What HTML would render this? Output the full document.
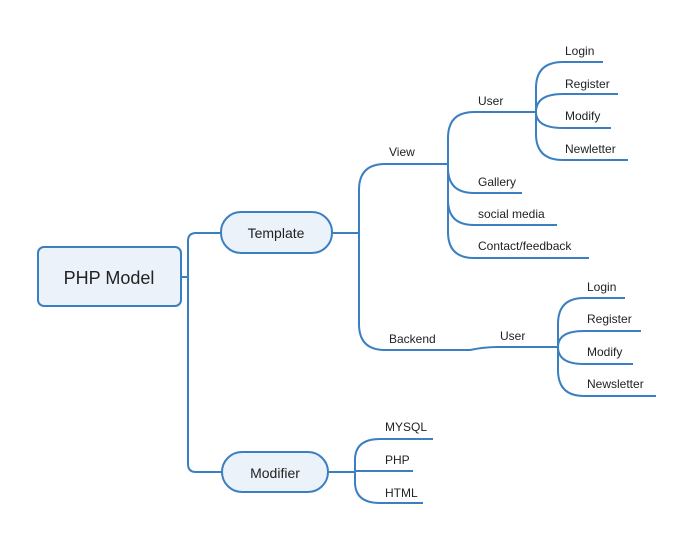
<!DOCTYPE html>
<html><head><style>
html,body{margin:0;padding:0;background:#fff;width:694px;height:543px;overflow:hidden}
svg{display:block}
text{font-family:"Liberation Sans",sans-serif;fill:#222}
</style></head><body>
<svg width="694" height="543" viewBox="0 0 694 543" xmlns="http://www.w3.org/2000/svg">
<g fill="none" stroke="#3a7fc1" stroke-width="2">
<!-- root -->
<path d="M181 277 H188"/>
<path d="M221 233 H196 Q188 233 188 241 V464 Q188 472 196 472 H222"/>
<!-- template to view/backend -->
<path d="M332 233 H359"/>
<path d="M385 164 Q359 164 359 190 V324 Q359 350 385 350 H470 Q484 347 498 347 H558"/>
<!-- view -->
<path d="M385 164 H448"/>
<path d="M474 112 Q448 112 448 138 V168 Q448 193 474 193 H522"/>
<path d="M448 160 V200 Q448 225 474 225 H557"/>
<path d="M448 190 V232 Q448 258 474 258 H589"/>
<!-- view user -->
<path d="M474 112 H536"/>
<path d="M563 62 Q536 62 536 88 V134 Q536 160 563 160 H628"/>
<path d="M563 62 H603"/>
<path d="M563 94 Q536 94 536 112 Q536 128 563 128 H611"/>
<path d="M563 94 H618"/>
<!-- backend user -->
<path d="M584 298 Q558 298 558 324 V370 Q558 396 584 396 H656"/>
<path d="M584 298 H625"/>
<path d="M584 331 Q558 331 558 347 Q558 364 584 364 H633"/>
<path d="M584 331 H641"/>
<!-- modifier -->
<path d="M328 472 H355"/>
<path d="M380 439 Q355 439 355 460 V482 Q355 503 380 503 H423"/>
<path d="M380 439 H433"/>
<path d="M355 471 H413"/>
</g>
<rect x="38" y="247" width="143" height="59" rx="6" fill="#ebf2f9" stroke="#3a7fc1" stroke-width="2"/>
<rect x="221" y="212" width="111" height="41" rx="20" fill="#ebf2f9" stroke="#3a7fc1" stroke-width="2"/>
<rect x="222" y="452" width="106" height="40" rx="20" fill="#ebf2f9" stroke="#3a7fc1" stroke-width="2"/>
<text x="109" y="284" font-size="18" text-anchor="middle">PHP Model</text>
<text x="276" y="238" font-size="14" text-anchor="middle">Template</text>
<text x="275" y="478" font-size="14" text-anchor="middle">Modifier</text>
<g font-size="12">
<text x="389" y="156">View</text>
<text x="478" y="105">User</text>
<text x="565" y="55">Login</text>
<text x="565" y="88">Register</text>
<text x="565" y="120">Modify</text>
<text x="565" y="153">Newletter</text>
<text x="478" y="186">Gallery</text>
<text x="478" y="218">social media</text>
<text x="478" y="250">Contact/feedback</text>
<text x="389" y="343">Backend</text>
<text x="500" y="340">User</text>
<text x="587" y="291">Login</text>
<text x="587" y="323">Register</text>
<text x="587" y="356">Modify</text>
<text x="587" y="388">Newsletter</text>
<text x="385" y="431">MYSQL</text>
<text x="385" y="464">PHP</text>
<text x="385" y="497">HTML</text>
</g>
</svg>
</body></html>
